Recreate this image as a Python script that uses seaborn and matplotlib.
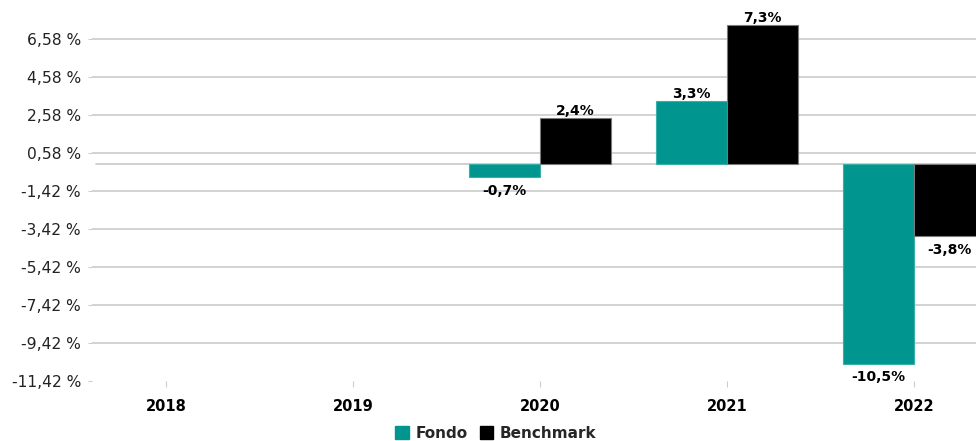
import numpy as np
import pandas as pd
import matplotlib
matplotlib.use("Agg")
import matplotlib.pyplot as plt
from matplotlib.patches import Patch
import seaborn as sns

# Annual returns (%)
years = ['2018', '2019', '2020', '2021', '2022']
fondo = [np.nan, np.nan, -0.7, 3.3, -10.5]
benchmark = [np.nan, np.nan, 2.4, 7.3, -3.8]
series = ['Fondo', 'Benchmark']
colors = {'Fondo': '#00968F', 'Benchmark': '#000000'}
y_ticks = [6.58, 4.58, 2.58, 0.58, -1.42, -3.42, -5.42, -7.42, -9.42, -11.42]

df = pd.DataFrame({
    'year': years * 2,
    'serie': ['Fondo'] * len(years) + ['Benchmark'] * len(years),
    'value': fondo + benchmark,
}).dropna()

sns.set_style("white")
plt.rcParams['font.family'] = ['DejaVu Sans']

fig = plt.figure(figsize=(9.76, 4.41), dpi=100)
ax = fig.add_axes([92 / 976, 1 - 381 / 441, 1 - 92 / 976, 381 / 441])

sns.barplot(data=df, x='year', y='value', hue='serie', order=years,
            hue_order=series, palette=colors, width=0.76, gap=0,
            saturation=1, errorbar=None, legend=False, ax=ax)

# thin outline on the bars
for p in ax.patches:
    fc = p.get_facecolor()
    p.set_edgecolor('#7a7a7a' if fc[0] < 0.05 and fc[1] < 0.05 else '#3aaea8')
    p.set_linewidth(0.8)

ax.set_xlim(-0.396, 4.332)
ax.set_ylim(-11.42, 8.63)

# grid lines
for t in y_ticks[:-1]:
    ax.axhline(t, color='#cccccc', lw=1.2, zorder=0)
ax.axhline(0, xmin=4 / 884, color='#c8c8c8', lw=1.2, zorder=0)

# value labels
for p in ax.patches:
    h = p.get_height()
    if np.isnan(h):
        continue
    x = p.get_x() + p.get_width() / 2
    txt = f"{h:.1f}%".replace('.', ',')
    if h >= 0:
        ax.annotate(txt, (x, h), xytext=(0, 0.5), textcoords='offset points',
                    ha='center', va='bottom', fontsize=10, fontweight='bold',
                    color='black')
    else:
        ax.annotate(txt, (x, h), xytext=(0, -5), textcoords='offset points',
                    ha='center', va='top', fontsize=10, fontweight='bold',
                    color='black')

ax.set_yticks(y_ticks)
ax.set_yticklabels([f"{t:.2f} %".replace('.', ',') for t in y_ticks])
ax.tick_params(axis='y', length=3, color='#cccccc', pad=5, labelsize=11.2,
               labelcolor='#222222', left=True)
ax.tick_params(axis='x', length=4, color='#cccccc', pad=9, labelsize=10.5,
               labelcolor='black', bottom=True)
for lab in ax.get_xticklabels():
    lab.set_fontweight('bold')
ax.set_xlabel('')
ax.set_ylabel('')
for s in ax.spines.values():
    s.set_visible(False)

handles = [Patch(facecolor=colors[s], edgecolor=colors[s], label=s) for s in series]
fig.legend(handles=handles, loc='center', bbox_to_anchor=(0.508, 0.017), ncol=2,
           frameon=False, handlelength=0.9, handleheight=0.9, handletextpad=0.4,
           columnspacing=0.8, prop={'weight': 'bold', 'size': 11})

fig.savefig('out.png', dpi=100)
